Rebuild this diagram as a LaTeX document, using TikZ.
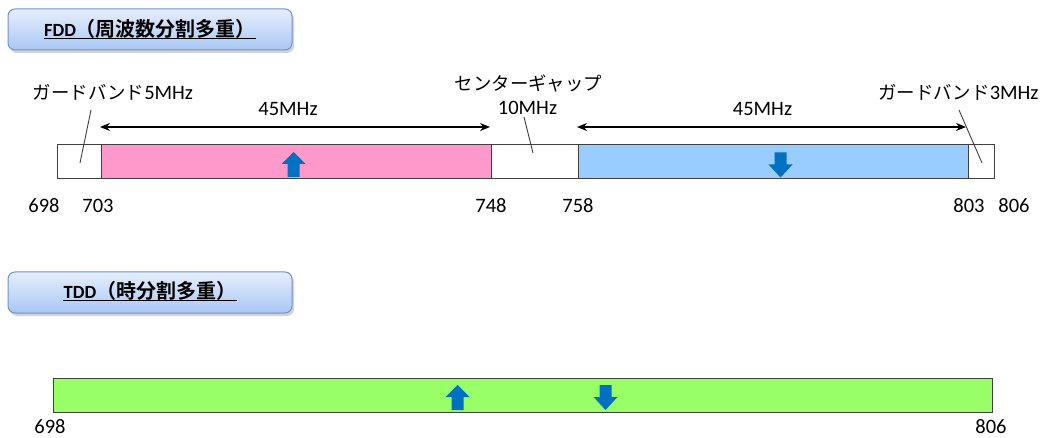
\documentclass[tikz,border=0pt]{standalone}
\usepackage{fontspec}
\setmainfont{Carlito}
\newfontfamily\jp{Noto Sans CJK JP}[BoldFont={Noto Sans CJK JP Bold}]
\usetikzlibrary{shadows,arrows.meta}
\definecolor{pinkband}{HTML}{FF99CC}
\definecolor{blueband}{HTML}{99CCFF}
\definecolor{greenband}{HTML}{99FF66}
\definecolor{arrowblue}{HTML}{0070C0}
\definecolor{boxtop}{HTML}{E6EEFC}
\definecolor{boxbot}{HTML}{A9C7F5}
\definecolor{boxline}{HTML}{7292D0}
\definecolor{edge}{HTML}{404040}
\tikzset{
  titlebox/.style={draw=boxline, line width=1pt, rounded corners=7pt,
    top color=boxtop, bottom color=boxbot, minimum width=284pt, minimum height=41pt,
    drop shadow={shadow xshift=2pt, shadow yshift=-3pt, opacity=0.35, fill=gray}},
  seg/.style={draw=edge, line width=1pt, minimum height=34pt, inner sep=0pt, outer sep=0pt, anchor=north west},
  lbl/.style={inner sep=0pt, anchor=base, font=\fontsize{20.5}{24}\selectfont},
  dim/.style={line width=1.4pt, {Stealth[length=10pt,width=8pt]}-{Stealth[length=10pt,width=8pt]}},
  leader/.style={draw=edge, line width=0.9pt},
  uparrow/.pic={\fill[arrowblue] (0,0) -- (12,12) -- (6,12) -- (6,25) -- (-6,25) -- (-6,12) -- (-12,12) -- cycle;},
  downarrow/.pic={\fill[arrowblue] (-6,0) -- (6,0) -- (6,12) -- (12,12) -- (0,25) -- (-12,12) -- (-6,12) -- cycle;},
}
\newcommand\jpt{\jp\fontsize{18.4}{22}\selectfont}
\begin{document}
\begin{tikzpicture}[x=1pt,y=-1pt]
\useasboundingbox (0,0) rectangle (1041,438);
% ---- FDD title
\node[titlebox] (fddbox) at (150,29.5) {};
\node[inner sep=0pt, anchor=base] (fddt) at (150,36.5)
  {\bfseries\fontsize{18.6}{22}\selectfont FDD{\jp\fontsize{20}{24}\selectfont （周波数分割多重）}};
\draw[line width=1.1pt] ([yshift=-1.6pt]fddt.base west) -- ([yshift=-1.6pt]fddt.base east);
% ---- FDD band
\node[seg, fill=white, minimum width=44pt] (g1) at (57,145) {};
\node[seg, fill=pinkband, minimum width=390pt] (up) at (g1.north east) {};
\node[seg, fill=white, minimum width=87pt] (gap) at (up.north east) {};
\node[seg, fill=blueband, minimum width=390pt] (dn) at (gap.north east) {};
\node[seg, fill=white, minimum width=26pt] (g2) at (dn.north east) {};
\pic at (293.5,152) {uparrow};
\pic at (780.5,152.5) {downarrow};
% dimension arrows
\coordinate (d1a) at (100,127);
\coordinate (d1b) at (490,127);
\coordinate (d2a) at (577,127);
\coordinate (d2b) at (966,127);
\draw[dim] (d1a) -- (d1b);
\draw[dim] (d2a) -- (d2b);
\node[lbl] (w1) at (288,116) {45MHz};
\node[lbl] (w2) at (762.5,116) {45MHz};
% labels and leaders
\node[lbl] (gl1) at (113,99.5) {{\jpt ガードバンド}5MHz};
\node[lbl] (gl2) at (958.5,99.5) {{\jpt ガードバンド}3MHz};
\node[lbl] (cg) at (528.5,90.5) {\jpt センターギャップ};
\node[lbl] (cg2) at (527.5,114.5) {10MHz};
\coordinate (l1a) at (91,110);  \coordinate (l1b) at (80,163);
\coordinate (l2a) at (524,117); \coordinate (l2b) at (533,153);
\coordinate (l3a) at (959,110); \coordinate (l3b) at (982,163);
\draw[leader] (l1a) -- (l1b);
\draw[leader] (l2a) -- (l2b);
\draw[leader] (l3a) -- (l3b);
% frequencies
\node[lbl] (f698) at (44,213) {698};
\node[lbl] (f703) at (98,213) {703};
\node[lbl] (f748) at (491,213) {748};
\node[lbl] (f758) at (578,213) {758};
\node[lbl] (f803) at (969,213) {803};
\node[lbl] (f806) at (1014,213) {806};
% ---- TDD title
\node[titlebox] (tddbox) at (150,292.5) {};
\node[inner sep=0pt, anchor=base] (tddt) at (150,298.5)
  {\bfseries\fontsize{18.6}{22}\selectfont TDD{\jp\fontsize{20}{24}\selectfont （時分割多重）}};
\draw[line width=1.1pt] ([yshift=-1.6pt]tddt.base west) -- ([yshift=-1.6pt]tddt.base east);
% ---- TDD band
\node[seg, fill=greenband, minimum width=939pt] (tdd) at (53,378) {};
\pic at (457.5,385) {uparrow};
\pic at (605.5,385) {downarrow};
\node[lbl] (t698) at (50,433) {698};
\node[lbl] (t806) at (991,433) {806};
\end{tikzpicture}
\end{document}
